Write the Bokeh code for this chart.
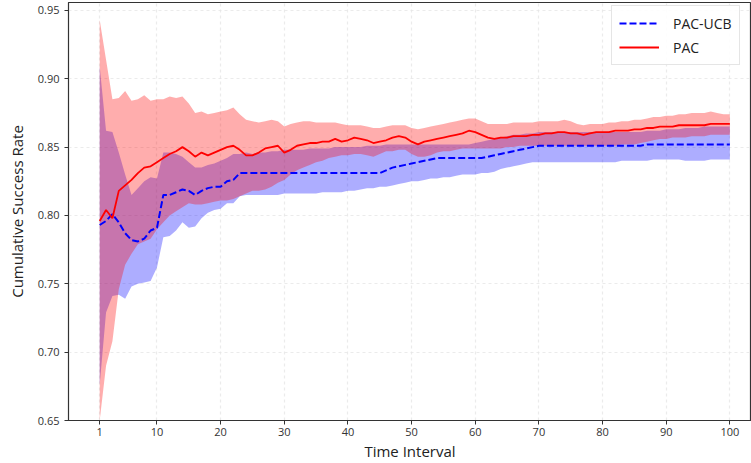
from bokeh.plotting import figure
from bokeh.models import Range1d, FixedTicker, Legend, LegendItem, CustomJSTickFormatter
from bokeh.embed import file_html
from bokeh.resources import INLINE

t = list(range(1, 101))

pac_mean = [
    .796, .804, .798, .818, .822, .826, .831, .835, .836, .839,
    .842, .845, .847, .850, .847, .843, .846, .844, .846, .848,
    .850, .851, .848, .844, .844, .846, .849, .850, .851, .846,
    .848, .851, .852, .853, .853, .854, .854, .856, .854, .855,
    .857, .856, .855, .853, .854, .855, .857, .858, .857, .854,
    .852, .854, .855, .856, .857, .858, .859, .860, .862, .861,
    .859, .857, .856, .857, .857, .858, .858, .858, .859, .859,
    .860, .860, .861, .861, .860, .860, .859, .860, .861, .861,
    .861, .862, .862, .862, .863, .863, .864, .864, .865, .865,
    .865, .866, .866, .866, .866, .866, .867, .867, .867, .867,
]
pac_upper = [
    .943, .914, .885, .886, .891, .884, .885, .888, .884, .885,
    .885, .887, .886, .887, .882, .875, .876, .874, .875, .876,
    .877, .879, .874, .870, .869, .868, .869, .870, .869, .865,
    .867, .868, .869, .869, .868, .868, .868, .868, .867, .866,
    .866, .866, .865, .864, .864, .865, .866, .866, .866, .864,
    .863, .864, .865, .866, .867, .868, .869, .870, .871, .871,
    .869, .867, .867, .867, .867, .868, .868, .868, .868, .869,
    .869, .869, .869, .870, .869, .867, .866, .867, .867, .867,
    .868, .868, .869, .869, .870, .870, .871, .872, .872, .873,
    .873, .874, .874, .875, .875, .875, .876, .875, .874, .874,
]
pac_lower = [
    .650, .690, .708, .746, .764, .772, .779, .781, .783, .790,
    .795, .800, .803, .806, .809, .808, .808, .809, .810, .811,
    .811, .812, .814, .816, .818, .818, .819, .821, .824, .826,
    .830, .833, .835, .837, .839, .840, .842, .843, .844, .844,
    .845, .845, .844, .843, .845, .847, .847, .848, .848, .845,
    .843, .843, .844, .846, .847, .847, .848, .849, .849, .849,
    .849, .849, .849, .849, .850, .850, .851, .851, .851, .851,
    .851, .851, .851, .851, .851, .851, .851, .851, .851, .851,
    .851, .851, .852, .852, .852, .853, .854, .855, .856, .856,
    .857, .857, .857, .858, .858, .858, .859, .859, .859, .859,
]
ucb_mean = [
    .793, .796, .801, .795, .787, .782, .781, .783, .789, .791,
    .815, .815, .817, .819, .818, .815, .818, .820, .821, .821,
    .825, .826, .831, .831, .831, .831, .831, .831, .831, .831,
    .831, .831, .831, .831, .831, .831, .831, .831, .831, .831,
    .831, .831, .831, .831, .831, .833, .835, .836, .837, .838,
    .839, .840, .841, .842, .842, .842, .842, .842, .842, .842,
    .842, .843, .844, .845, .846, .847, .848, .849, .850, .851,
    .851, .851, .851, .851, .851, .851, .851, .851, .851, .851,
    .851, .851, .851, .851, .851, .851, .852, .852, .852, .852,
    .852, .852, .852, .852, .852, .852, .852, .852, .852, .852,
]
ucb_upper = [
    .909, .862, .861, .846, .830, .815, .820, .825, .828, .827,
    .846, .846, .845, .843, .839, .835, .835, .837, .838, .840,
    .842, .845, .845, .846, .845, .846, .846, .847, .847, .848,
    .848, .848, .848, .849, .849, .849, .849, .850, .850, .850,
    .850, .850, .851, .851, .851, .852, .852, .852, .852, .852,
    .852, .852, .852, .852, .852, .852, .852, .852, .852, .853,
    .854, .855, .856, .857, .858, .859, .859, .860, .860, .861,
    .861, .861, .861, .861, .861, .861, .861, .861, .861, .861,
    .861, .861, .861, .861, .861, .861, .862, .862, .862, .863,
    .863, .863, .864, .864, .864, .865, .865, .865, .865, .865,
]
ucb_lower = [
    .676, .729, .741, .742, .739, .748, .750, .751, .752, .762,
    .784, .785, .789, .795, .791, .792, .798, .802, .804, .805,
    .809, .809, .814, .815, .815, .815, .815, .815, .815, .816,
    .816, .816, .816, .816, .816, .817, .817, .817, .817, .818,
    .818, .819, .820, .820, .821, .821, .822, .823, .824, .825,
    .825, .826, .827, .827, .828, .828, .829, .830, .830, .830,
    .831, .831, .832, .834, .835, .836, .837, .838, .839, .839,
    .839, .839, .839, .839, .839, .839, .839, .839, .839, .839,
    .839, .839, .840, .840, .840, .840, .840, .841, .841, .841,
    .841, .841, .840, .840, .840, .840, .841, .841, .841, .841,
]

x_ticks = [1, 10, 20, 30, 40, 50, 60, 70, 80, 90, 100]
y_ticks = [0.65, 0.70, 0.75, 0.80, 0.85, 0.90, 0.95]
series_names = ["PAC-UCB", "PAC"]

FONT = "Open Sans"

p = figure(width=751, height=463, output_backend="svg", toolbar_location=None,
           x_range=Range1d(-3.9, 103.4), y_range=Range1d(0.65, 0.9558),
           min_border_left=68, min_border_right=0, min_border_top=2, min_border_bottom=42)

p.outline_line_color = "#333333"
p.outline_line_width = 1.2
p.background_fill_color = "white"
p.border_fill_color = "white"

p.grid.grid_line_color = "#e6e6e6"
p.grid.grid_line_alpha = 0.8
p.grid.grid_line_dash = "3 3"
p.grid.grid_line_width = 1.2

p.varea(x=t, y1=ucb_lower, y2=ucb_upper, fill_color="blue", fill_alpha=0.32)
p.varea(x=t, y1=pac_lower, y2=pac_upper, fill_color="red", fill_alpha=0.32)
r_ucb = p.line(t, ucb_mean, line_color="blue", line_width=2, line_dash="7 3")
r_pac = p.line(t, pac_mean, line_color="red", line_width=1.8)

p.xaxis.ticker = FixedTicker(ticks=x_ticks)
p.yaxis.ticker = FixedTicker(ticks=y_ticks)
p.yaxis.formatter = CustomJSTickFormatter(code="return tick.toFixed(2);")

for ax in (p.xaxis[0], p.yaxis[0]):
    ax.axis_line_color = "#333333"
    ax.major_tick_line_color = "#333333"
    ax.major_tick_out = 4
    ax.major_tick_in = 0
    ax.minor_tick_line_color = None
    ax.major_label_text_font = FONT
    ax.major_label_text_font_size = "11px"
    ax.major_label_text_color = "#333333"
    ax.axis_label_text_font = FONT
    ax.axis_label_text_font_size = "15px"
    ax.axis_label_text_font_style = "normal"
    ax.axis_label_text_color = "#222222"

p.xaxis.axis_label = "Time Interval"
p.yaxis.axis_label = "Cumulative Success Rate"
p.xaxis.major_label_standoff = 3
p.xaxis.axis_label_standoff = 2
p.yaxis.major_label_standoff = 5
p.yaxis.axis_label_standoff = 8

legend = Legend(items=[LegendItem(label=series_names[0], renderers=[r_ucb]),
                       LegendItem(label=series_names[1], renderers=[r_pac])],
                location=(543, 355))
legend.label_text_font = FONT
legend.label_text_font_size = "14px"
legend.label_text_color = "#222222"
legend.glyph_width = 40
legend.glyph_height = 20
legend.label_height = 20
legend.label_standoff = 14
legend.spacing = 4
legend.padding = 7
legend.margin = 0
legend.border_line_color = "#cccccc"
legend.border_line_width = 1
legend.background_fill_alpha = 0.9
p.add_layout(legend)

open("out.html", "w").write(file_html(p, INLINE))
